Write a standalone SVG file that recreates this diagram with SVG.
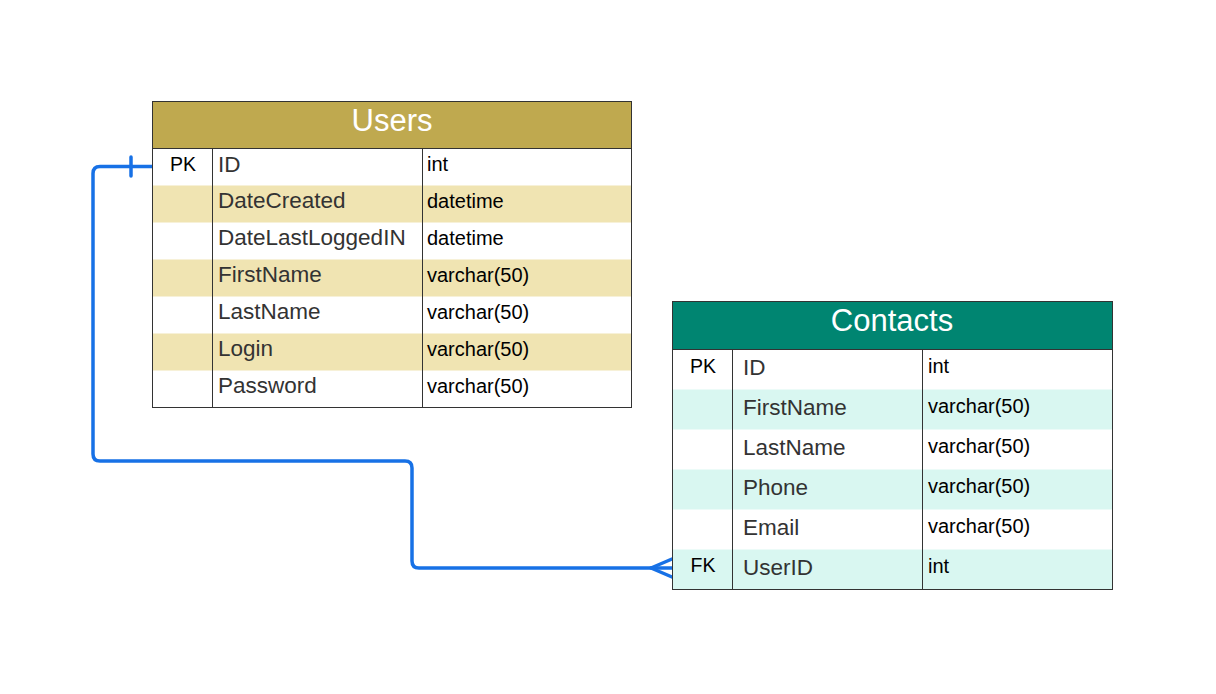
<svg xmlns="http://www.w3.org/2000/svg" width="1216" height="694" viewBox="0 0 1216 694">
<style>
.f{font-family:"Liberation Sans",Arial,sans-serif}
.hd{font-size:31px;fill:#fff;text-anchor:middle}
.k{font-size:19.5px;fill:#000;text-anchor:middle}
.n{font-size:22.5px;fill:#333}
.t{font-size:20px;fill:#000}
.ln{stroke:#333;stroke-width:1;fill:none}
.c{stroke:#1771e6;stroke-width:3.5;fill:none;stroke-linecap:round;stroke-linejoin:round}
</style>
<rect width="1216" height="694" fill="#fff"/>
<g id="connectors">
<path class="c" d="M152,166.5 H100 Q93,166.5 93,173.5 V454 Q93,461 100,461 H405 Q412,461 412,468 V561 Q412,568 419,568 H672"/>
<path class="c" d="M131,157 V176"/>
<path class="c" d="M651,568 L672,559 M651,568 L672,577"/>
</g>
<g id="users" class="f">
<rect x="152.5" y="148.5" width="479" height="259" fill="#fff"/>
<rect x="152.5" y="185.5" width="479" height="37" fill="#f0e4b2"/>
<rect x="152.5" y="259.5" width="479" height="37" fill="#f0e4b2"/>
<rect x="152.5" y="333.5" width="479" height="37" fill="#f0e4b2"/>
<rect x="152.5" y="101.5" width="479" height="47" fill="#bfa94f"/>
<rect class="ln" x="152.5" y="101.5" width="479" height="306"/>
<line class="ln" x1="152.5" y1="148.5" x2="631.5" y2="148.5"/>
<line class="ln" x1="212.5" y1="148.5" x2="212.5" y2="407.5"/>
<line class="ln" x1="422.5" y1="148.5" x2="422.5" y2="407.5"/>
<text class="hd" x="392" y="131">Users</text>
<text class="k" x="183" y="171">PK</text>
<text class="n" x="218" y="172">ID</text>
<text class="n" x="218" y="208">DateCreated</text>
<text class="n" x="218" y="245">DateLastLoggedIN</text>
<text class="n" x="218" y="282">FirstName</text>
<text class="n" x="218" y="319">LastName</text>
<text class="n" x="218" y="356">Login</text>
<text class="n" x="218" y="393">Password</text>
<text class="t" x="427" y="171">int</text>
<text class="t" x="427" y="208">datetime</text>
<text class="t" x="427" y="245">datetime</text>
<text class="t" x="427" y="282">varchar(50)</text>
<text class="t" x="427" y="319">varchar(50)</text>
<text class="t" x="427" y="356">varchar(50)</text>
<text class="t" x="427" y="393">varchar(50)</text>
</g>
<g id="contacts" class="f">
<rect x="672.5" y="349.5" width="440" height="240" fill="#fff"/>
<rect x="672.5" y="389.5" width="440" height="40" fill="#d9f7f1"/>
<rect x="672.5" y="469.5" width="440" height="40" fill="#d9f7f1"/>
<rect x="672.5" y="549.5" width="440" height="40" fill="#d9f7f1"/>
<rect x="672.5" y="301.5" width="440" height="48" fill="#008571"/>
<rect class="ln" x="672.5" y="301.5" width="440" height="288"/>
<line class="ln" x1="672.5" y1="349.5" x2="1112.5" y2="349.5"/>
<line class="ln" x1="732.5" y1="349.5" x2="732.5" y2="589.5"/>
<line class="ln" x1="922.5" y1="349.5" x2="922.5" y2="589.5"/>
<text class="hd" x="892" y="331">Contacts</text>
<text class="k" x="703" y="373">PK</text>
<text class="k" x="703" y="572">FK</text>
<text class="n" x="743" y="375">ID</text>
<text class="n" x="743" y="415">FirstName</text>
<text class="n" x="743" y="455">LastName</text>
<text class="n" x="743" y="495">Phone</text>
<text class="n" x="743" y="535">Email</text>
<text class="n" x="743" y="575">UserID</text>
<text class="t" x="928" y="373">int</text>
<text class="t" x="928" y="413">varchar(50)</text>
<text class="t" x="928" y="453">varchar(50)</text>
<text class="t" x="928" y="493">varchar(50)</text>
<text class="t" x="928" y="533">varchar(50)</text>
<text class="t" x="928" y="573">int</text>
</g>
</svg>
